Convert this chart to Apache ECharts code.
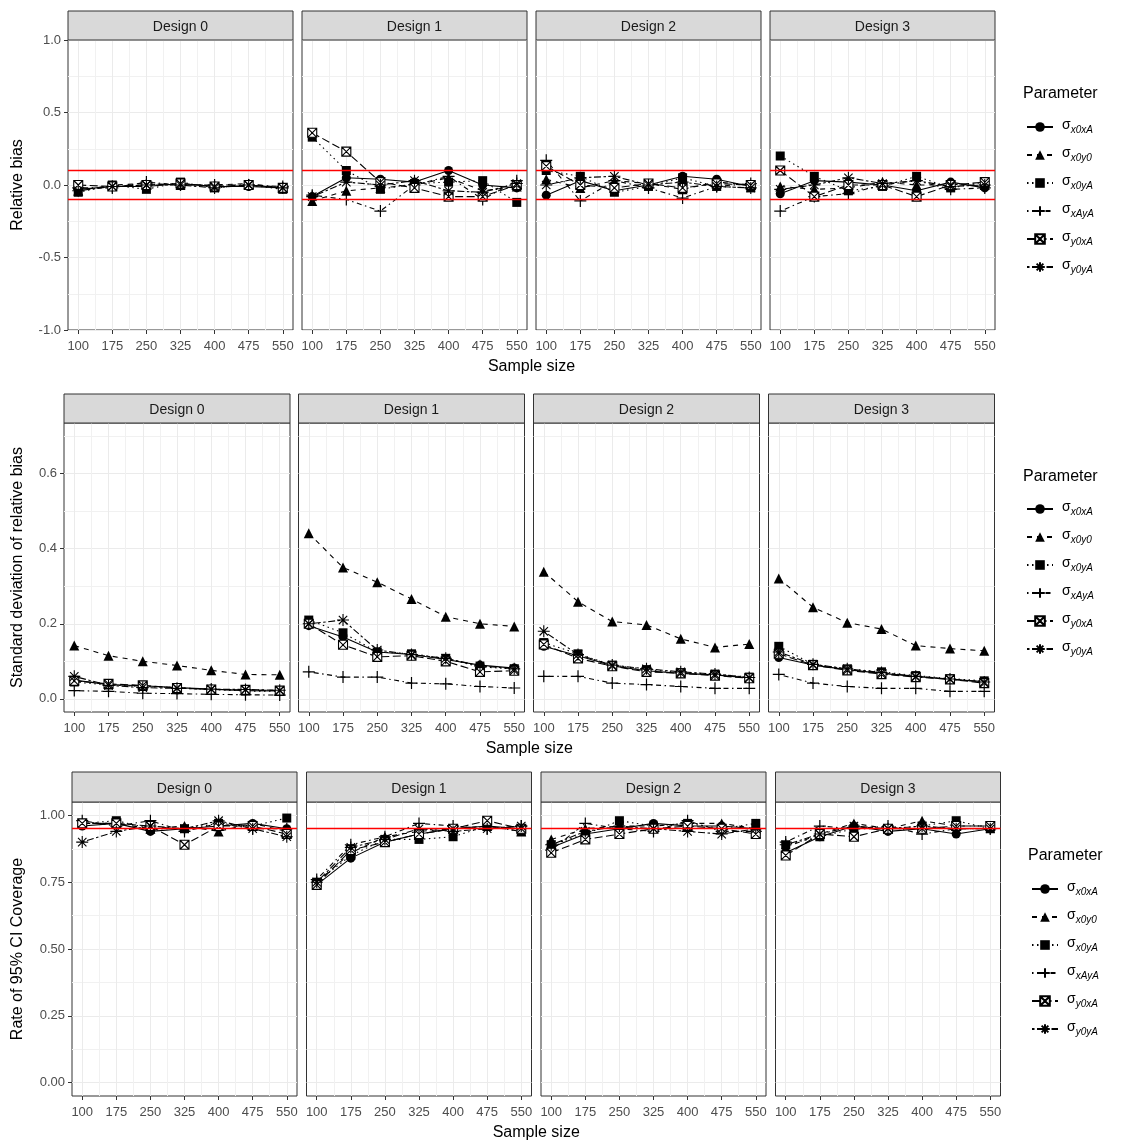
<!DOCTYPE html>
<html><head><meta charset="utf-8">
<script src="https://cdn.jsdelivr.net/npm/echarts@6/dist/echarts.min.js"></script>
<style>html,body{margin:0;padding:0;background:#fff}#c{width:1121px;height:1144px}</style>
</head><body><div id="c"></div>
<script>
// ---------- DATA ----------
const sampleSizes = [100, 175, 250, 325, 400, 475, 550];
const designs = ['Design 0', 'Design 1', 'Design 2', 'Design 3'];
const paramNames = ['x0xA', 'x0y0', 'x0yA', 'xAyA', 'y0xA', 'y0yA'];
const biasTicks = [-1.0, -0.5, 0.0, 0.5, 1.0];
const sdTicks = [0.0, 0.2, 0.4, 0.6];
const covTicks = [0.00, 0.25, 0.50, 0.75, 1.00];
const biasRef = [0.1, -0.1];
const covRef = [0.95];

// Relative bias (rows in paramNames order)
const bias_D0 = [
  [-0.03, -0.01, -0.01, 0.01, -0.01, -0.01, -0.02],
  [-0.04, 0.00, 0.01, 0.00, 0.00, 0.01, -0.02],
  [-0.05, 0.00, -0.03, 0.02, -0.02, 0.00, -0.03],
  [-0.02, -0.02, 0.02, 0.00, 0.00, 0.00, -0.01],
  [0.00, -0.01, 0.00, 0.01, -0.01, 0.00, -0.02],
  [-0.04, -0.01, 0.00, 0.00, -0.02, 0.00, -0.02]
];
const bias_D1 = [
  [-0.08, 0.05, 0.04, 0.02, 0.10, 0.00, -0.02],
  [-0.11, -0.04, -0.02, 0.00, 0.05, -0.04, -0.01],
  [0.33, 0.10, -0.03, 0.01, 0.02, 0.03, -0.12],
  [-0.07, -0.10, -0.18, 0.00, 0.06, -0.10, 0.03],
  [0.36, 0.23, 0.02, -0.02, -0.08, -0.08, 0.00],
  [-0.08, 0.02, 0.00, 0.03, -0.04, -0.05, 0.01]
];
const bias_D2 = [
  [-0.07, 0.03, -0.04, 0.00, 0.06, 0.04, -0.01],
  [0.04, -0.02, 0.03, 0.01, -0.03, 0.02, 0.00],
  [0.10, 0.06, -0.05, -0.01, 0.05, -0.01, -0.02],
  [0.17, -0.11, 0.03, -0.02, -0.09, -0.01, 0.01],
  [0.13, 0.00, -0.02, 0.01, -0.02, 0.01, 0.00],
  [0.00, 0.05, 0.06, 0.00, 0.02, -0.01, -0.02]
];
const bias_D3 = [
  [-0.06, 0.03, 0.02, 0.00, -0.04, 0.02, -0.02],
  [-0.01, -0.03, -0.02, 0.02, 0.00, 0.00, 0.00],
  [0.20, 0.06, -0.04, -0.01, 0.06, -0.02, 0.02],
  [-0.18, -0.08, -0.06, 0.00, 0.03, -0.03, -0.02],
  [0.10, -0.08, 0.00, 0.00, -0.08, 0.00, 0.02],
  [-0.03, 0.00, 0.05, 0.01, 0.03, -0.01, 0.00]
];

// Standard deviation of relative bias
const sd_D0 = [
  [0.050, 0.038, 0.035, 0.030, 0.026, 0.022, 0.021],
  [0.142, 0.115, 0.100, 0.089, 0.076, 0.065, 0.064],
  [0.045, 0.037, 0.033, 0.030, 0.025, 0.021, 0.020],
  [0.022, 0.020, 0.015, 0.014, 0.012, 0.011, 0.010],
  [0.048, 0.040, 0.036, 0.029, 0.025, 0.024, 0.022],
  [0.060, 0.036, 0.030, 0.028, 0.026, 0.025, 0.023]
];
const sd_D1 = [
  [0.195, 0.165, 0.125, 0.118, 0.105, 0.090, 0.082],
  [0.441, 0.350, 0.311, 0.266, 0.219, 0.200, 0.193],
  [0.210, 0.176, 0.125, 0.120, 0.108, 0.085, 0.080],
  [0.072, 0.058, 0.058, 0.042, 0.040, 0.033, 0.029],
  [0.200, 0.144, 0.112, 0.115, 0.100, 0.072, 0.075],
  [0.200, 0.210, 0.130, 0.118, 0.108, 0.088, 0.080]
];
const sd_D2 = [
  [0.140, 0.115, 0.088, 0.075, 0.068, 0.064, 0.056],
  [0.339, 0.259, 0.206, 0.197, 0.160, 0.137, 0.146],
  [0.150, 0.120, 0.090, 0.078, 0.070, 0.066, 0.058],
  [0.060, 0.060, 0.042, 0.038, 0.033, 0.028, 0.028],
  [0.145, 0.108, 0.087, 0.072, 0.068, 0.062, 0.055],
  [0.180, 0.118, 0.090, 0.080, 0.072, 0.066, 0.057]
];
const sd_D3 = [
  [0.110, 0.090, 0.078, 0.068, 0.060, 0.052, 0.046],
  [0.321, 0.244, 0.203, 0.186, 0.142, 0.134, 0.128],
  [0.140, 0.092, 0.080, 0.072, 0.062, 0.054, 0.048],
  [0.065, 0.042, 0.033, 0.028, 0.028, 0.020, 0.020],
  [0.120, 0.090, 0.076, 0.066, 0.058, 0.052, 0.042],
  [0.125, 0.092, 0.080, 0.070, 0.060, 0.053, 0.045]
];

// Rate of 95% CI coverage
const cov_D0 = [
  [0.96, 0.97, 0.94, 0.95, 0.96, 0.97, 0.95],
  [0.97, 0.97, 0.95, 0.96, 0.94, 0.97, 0.94],
  [0.97, 0.98, 0.95, 0.95, 0.97, 0.96, 0.99],
  [0.98, 0.96, 0.98, 0.94, 0.97, 0.95, 0.95],
  [0.97, 0.97, 0.96, 0.89, 0.96, 0.96, 0.93],
  [0.90, 0.94, 0.96, 0.95, 0.98, 0.95, 0.92]
];
const cov_D1 = [
  [0.74, 0.84, 0.90, 0.93, 0.95, 0.96, 0.95],
  [0.75, 0.86, 0.92, 0.94, 0.95, 0.96, 0.94],
  [0.75, 0.85, 0.91, 0.91, 0.92, 0.96, 0.94],
  [0.76, 0.89, 0.92, 0.97, 0.96, 0.95, 0.96],
  [0.74, 0.87, 0.90, 0.93, 0.95, 0.98, 0.95],
  [0.75, 0.88, 0.91, 0.95, 0.94, 0.95, 0.96]
];
const cov_D2 = [
  [0.88, 0.93, 0.95, 0.97, 0.96, 0.96, 0.95],
  [0.91, 0.95, 0.96, 0.96, 0.97, 0.97, 0.95],
  [0.89, 0.93, 0.98, 0.96, 0.97, 0.95, 0.97],
  [0.87, 0.97, 0.95, 0.94, 0.98, 0.94, 0.94],
  [0.86, 0.91, 0.93, 0.95, 0.96, 0.95, 0.93],
  [0.89, 0.94, 0.96, 0.95, 0.94, 0.93, 0.95]
];
const cov_D3 = [
  [0.86, 0.92, 0.96, 0.94, 0.95, 0.93, 0.95],
  [0.88, 0.93, 0.97, 0.95, 0.98, 0.96, 0.96],
  [0.89, 0.92, 0.95, 0.95, 0.96, 0.98, 0.95],
  [0.90, 0.96, 0.95, 0.96, 0.93, 0.95, 0.95],
  [0.85, 0.93, 0.92, 0.95, 0.95, 0.96, 0.96],
  [0.89, 0.93, 0.96, 0.95, 0.96, 0.95, 0.95]
];

// ---------- LAYOUT / STYLE ----------
const FONT = 'Arial, "Liberation Sans", sans-serif';
const xMinor = [137.5, 212.5, 287.5, 362.5, 437.5, 512.5];
const rows = [
  { data: [bias_D0, bias_D1, bias_D2, bias_D3], top: 40, height: 290, stripTop: 11,
    lefts: [68, 302, 536, 770], width: 225, ymin: -1, ymax: 1,
    ticks: biasTicks, minor: [-0.75, -0.25, 0.25, 0.75], dec: 1, ref: biasRef,
    yTitle: 'Relative bias', xTitleY: 367, legLeft: 1026, legTop: 118, parY: 94, parX: 1023 },
  { data: [sd_D0, sd_D1, sd_D2, sd_D3], top: 423, height: 289, stripTop: 394,
    lefts: [64, 298.5, 533.5, 768.5], width: 226, ymin: -0.035, ymax: 0.735,
    ticks: sdTicks, minor: [0.1, 0.3, 0.5, 0.7], dec: 1, ref: [],
    yTitle: 'Standard deviation of relative bias', xTitleY: 749, legLeft: 1026, legTop: 500, parY: 477, parX: 1023 },
  { data: [cov_D0, cov_D1, cov_D2, cov_D3], top: 802, height: 294, stripTop: 772,
    lefts: [72, 306.5, 541, 775.5], width: 225, ymin: -0.05, ymax: 1.05,
    ticks: covTicks, minor: [0.125, 0.375, 0.625, 0.875], dec: 2, ref: covRef,
    yTitle: 'Rate of 95% CI Coverage', xTitleY: 1133, legLeft: 1031, legTop: 880, parY: 856, parX: 1028 }
];

const SYM = [
  { symbol: 'circle', size: 9, item: { color: '#000', borderWidth: 0 } },
  { symbol: 'triangle', size: 10, item: { color: '#000', borderWidth: 0 } },
  { symbol: 'rect', size: 9, item: { color: '#000', borderWidth: 0 } },
  { symbol: 'path://M0,5L10,5M5,0L5,10', size: 12, item: { color: '#000', borderColor: '#000', borderWidth: 1.2 } },
  { symbol: 'path://M0,0L10,0L10,10L0,10ZM0,0L10,10M10,0L0,10', size: 9, item: { color: '#fff', borderColor: '#000', borderWidth: 1.1 } },
  { symbol: 'path://M0,5L10,5M5,0L5,10M1.5,1.5L8.5,8.5M8.5,1.5L1.5,8.5', size: 12, item: { color: '#000', borderColor: '#000', borderWidth: 1.1 } }
];
const DASH = ['solid', [5, 5], [1.5, 3.5], [1.5, 3.5, 5, 3.5], [8, 3.5], [2.5, 2.5, 7, 2.5]];

const grids = [], xAxes = [], yAxes = [], series = [], graphics = [], legends = [];

rows.forEach((row, r) => {
  designs.forEach((dname, c) => {
    const p = r * 4 + c;
    const left = row.lefts[c];
    grids.push({ left: left, top: row.top, width: row.width, height: row.height,
      show: true, borderColor: '#333', borderWidth: 1, backgroundColor: '#fff',
      outerBoundsMode: 'none', containLabel: false });
    xAxes.push({ type: 'value', gridIndex: p, min: 77.5, max: 572.5, position: 'bottom',
      axisLine: { show: false, onZero: false },
      axisTick: { show: true, length: 4, lineStyle: { color: '#333', width: 1 }, customValues: sampleSizes },
      axisLabel: { show: true, customValues: sampleSizes, color: '#4d4d4d', fontSize: 13, margin: 10, fontFamily: FONT },
      splitLine: { show: true, lineStyle: { color: '#ebebeb', width: 1 } } });
    xAxes.push({ type: 'value', gridIndex: p, min: 77.5, max: 572.5, position: 'top',
      axisLine: { show: false, onZero: false },
      axisTick: { show: false, customValues: xMinor },
      axisLabel: { show: false, customValues: xMinor },
      splitLine: { show: true, lineStyle: { color: '#f1f1f1', width: 1 } } });
    const first = c === 0;
    yAxes.push({ type: 'value', gridIndex: p, min: row.ymin, max: row.ymax, position: 'left',
      axisLine: { show: false, onZero: false },
      axisTick: { show: first, length: 4, lineStyle: { color: '#333', width: 1 }, customValues: row.ticks },
      axisLabel: { show: first, customValues: row.ticks, color: '#4d4d4d', fontSize: 13, margin: 7, fontFamily: FONT,
        formatter: v => Number(v).toFixed(row.dec) },
      splitLine: { show: true, lineStyle: { color: '#ebebeb', width: 1 } } });
    yAxes.push({ type: 'value', gridIndex: p, min: row.ymin, max: row.ymax, position: 'right',
      axisLine: { show: false, onZero: false },
      axisTick: { show: false, customValues: row.minor },
      axisLabel: { show: false, customValues: row.minor },
      splitLine: { show: true, lineStyle: { color: '#f1f1f1', width: 1 } } });

    row.data[c].forEach((vals, s) => {
      const sObj = {
        name: paramNames[s], type: 'line', xAxisIndex: 2 * p, yAxisIndex: 2 * p,
        data: sampleSizes.map((x, i) => [x, vals[i]]),
        symbol: SYM[s].symbol, symbolSize: SYM[s].size, showSymbol: true,
        itemStyle: SYM[s].item,
        lineStyle: { color: '#000', width: 1.1, type: DASH[s] },
        emphasis: { disabled: true }, silent: true, animation: false, z: 3
      };
      if (s === 0 && row.ref.length) {
        sObj.markLine = { silent: true, symbol: ['none', 'none'], animation: false,
          label: { show: false },
          lineStyle: { color: '#ff0000', width: 1.3, type: 'solid' },
          emphasis: { disabled: true },
          data: row.ref.map(v => ({ yAxis: v })) };
      }
      series.push(sObj);
    });

    graphics.push({ type: 'rect', silent: true, z: 10,
      shape: { x: left, y: row.stripTop, width: row.width, height: row.top - row.stripTop },
      style: { fill: '#d9d9d9', stroke: '#333', lineWidth: 1 } });
    graphics.push({ type: 'text', silent: true, z: 11,
      x: left + row.width / 2, y: (row.stripTop + row.top) / 2 + 2,
      style: { text: dname, font: '14px ' + FONT, fill: '#1a1a1a', align: 'center', verticalAlign: 'middle' } });
  });

  const x0 = row.lefts[0], x1 = row.lefts[3] + row.width;
  graphics.push({ type: 'text', silent: true, x: (x0 + x1) / 2, y: row.xTitleY,
    style: { text: 'Sample size', font: '16px ' + FONT, fill: '#000', align: 'center', verticalAlign: 'middle' } });
  graphics.push({ type: 'text', silent: true, x: 18, y: row.top + row.height / 2, rotation: Math.PI / 2,
    style: { text: row.yTitle, font: '16px ' + FONT, fill: '#000', align: 'center', verticalAlign: 'middle' } });
  graphics.push({ type: 'text', silent: true, x: row.parX, y: row.parY,
    style: { text: 'Parameter', font: '16px ' + FONT, fill: '#000', align: 'left', verticalAlign: 'middle' } });

  legends.push({ show: true, orient: 'vertical', left: row.legLeft, top: row.legTop,
    data: paramNames, itemWidth: 26, itemHeight: 12, itemGap: 11, selectedMode: false,
    padding: 0, inactiveColor: '#000',
    formatter: n => '{a|σ}{b|' + n + '}',
    textStyle: { color: '#000', fontFamily: FONT,
      rich: {
        a: { fontSize: 14, color: '#000', fontFamily: FONT, padding: [0, 0, 3, 4], verticalAlign: 'bottom', lineHeight: 16 },
        b: { fontSize: 10, color: '#000', fontFamily: FONT, fontStyle: 'italic', verticalAlign: 'bottom', lineHeight: 12 }
      } } });
});

const chart = echarts.init(document.getElementById('c'), null, { renderer: 'canvas' });
chart.setOption({
  animation: false,
  backgroundColor: '#fff',
  textStyle: { fontFamily: FONT },
  tooltip: { show: false },
  legend: legends,
  grid: grids,
  xAxis: xAxes,
  yAxis: yAxes,
  series: series,
  graphic: { elements: graphics }
});
</script>
</body></html>
